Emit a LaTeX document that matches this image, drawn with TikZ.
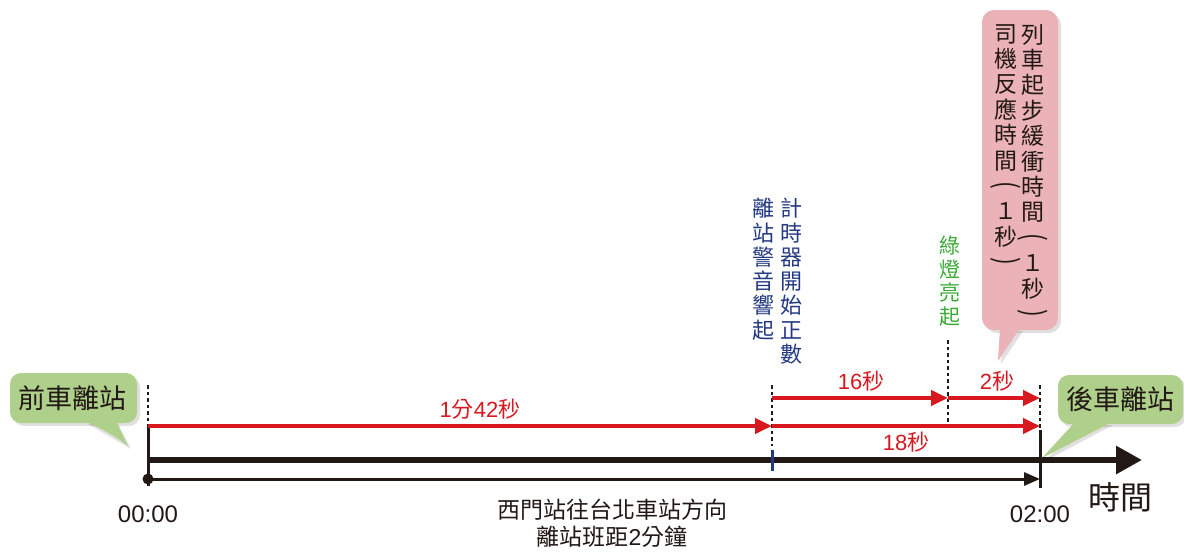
\documentclass[tikz,border=0pt]{standalone}
\usepackage{graphicx}
\usepackage{fontspec}
\setmainfont{Noto Sans CJK TC}
\newfontfamily\lat{Liberation Sans}
\usetikzlibrary{arrows.meta}
\definecolor{myred}{HTML}{D7191F}
\definecolor{mygreenbox}{HTML}{AFD08A}
\definecolor{mypink}{HTML}{EBB3B7}
\definecolor{mynavy}{HTML}{233A83}
\definecolor{mygreentext}{HTML}{3AA935}
\definecolor{myblack}{HTML}{221815}
\newcommand{\myvlp}{\rotatebox[origin=c]{-90}{\fontspec{Noto Sans CJK TC}\scalebox{1}[1.3]{(}}}
\newcommand{\myvrp}{\rotatebox[origin=c]{-90}{\fontspec{Noto Sans CJK TC}\scalebox{1}[1.3]{)}}}
\begin{document}
\begin{tikzpicture}[x=1pt,y=-1pt,
  redarr/.style={draw=myred,line width=4pt,-{Triangle[length=17pt,width=15pt]}},
  dotline/.style={draw=myblack,line width=2.5pt,dash pattern=on 3.5pt off 3pt},
  vlabel/.style={align=center,inner sep=0pt,anchor=north},
  redlabel/.style={text=myred,font=\fontsize{22}{24}\selectfont,inner sep=0pt},
  timelabel/.style={text=myblack,font=\lat\fontsize{24}{26}\selectfont,inner sep=0pt},
  calltext/.style={text=myblack,font=\fontsize{27}{29}\selectfont,inner sep=0pt},
  shadowfill/.style={fill=black,opacity=0.12}
]
\useasboundingbox (0,0) rectangle (1184,552);

% time coordinates
\coordinate (t0top) at (148,385);
\coordinate (t0red) at (148,426);
\coordinate (t0axis) at (148,460);
\coordinate (t0low) at (148,479);
\coordinate (t0bot) at (148,486);
\coordinate (t1top) at (772,385);
\coordinate (t1a) at (772,398);
\coordinate (t1red) at (772,426);
\coordinate (t1dotend) at (772,446);
\coordinate (t1tickA) at (772,450);
\coordinate (t1tickB) at (772,471);
\coordinate (t2top) at (948,340);
\coordinate (t2a) at (948,398);
\coordinate (t2bot) at (948,422);
\coordinate (t3top) at (1040,385);
\coordinate (t3a) at (1040,398);
\coordinate (t3red) at (1040,426);
\coordinate (t3solid) at (1040,430);
\coordinate (t3low) at (1040,479);
\coordinate (t3bot) at (1040,488);
\coordinate (axisend) at (1142,460);

% callouts (background)
\fill[shadowfill,rounded corners=11pt] (13,376) rectangle (140,426);
\fill[shadowfill] (88,424) -- (131,449) -- (118,424) -- cycle;
\fill[mygreenbox,rounded corners=11pt] (10,373) rectangle (137,423);
\fill[mygreenbox] (84,421) .. controls (105,430) and (118,438) .. (128,446) -- (116,421) -- cycle;

\fill[shadowfill,rounded corners=11pt] (1061,378) rectangle (1186,427);
\fill[shadowfill] (1078,425) -- (1045,461) -- (1113,425) -- cycle;
\fill[mygreenbox,rounded corners=11pt] (1058,375) rectangle (1183,424);
\fill[mygreenbox] (1075,422) -- (1042,458) -- (1112,422) -- cycle;

\fill[shadowfill,rounded corners=12pt] (985,13) rectangle (1061,333);
\fill[shadowfill] (1003,331) -- (1001,364) -- (1023,331) -- cycle;
\fill[mypink,rounded corners=12pt] (982,10) rectangle (1058,330);
\fill[mypink] (1000,328) -- (998,361) -- (1020,328) -- cycle;

% dotted markers
\draw[dotline] (t0top) -- (t0red);
\draw[dotline] (t1top) -- (t1dotend);
\draw[dotline] (t2top) -- (t2bot);
\draw[dotline] (t3top) -- (t3solid);

% axes
\draw[myblack,line width=6pt,-{Triangle[length=26pt,width=27pt]}] (t0axis) -- (axisend);
\draw[myblack,line width=3pt,-{Triangle[length=16pt,width=13pt]}] (t0low) -- (t3low);
\draw[myblack,line width=3pt] (t0red) -- (t0bot);
\draw[myblack,line width=3pt] (t3solid) -- (t3bot);
\fill[myblack] (t0low) circle (5.5pt);
\draw[mynavy,line width=3pt] (t1tickA) -- (t1tickB);

% red intervals
\draw[redarr] (t0red) -- (t1red);
\draw[redarr] (t1a) -- (t2a);
\draw[redarr] (t2a) -- (t3a);
\draw[redarr] (t1red) -- (t3red);

% labels
\node[redlabel] (l1) at (480,409) {{\lat 1}分{\lat 42}秒};
\node[redlabel] (l2) at (861,381) {{\lat 16}秒};
\node[redlabel] (l3) at (997,381) {{\lat 2}秒};
\node[redlabel] (l4) at (906,442) {{\lat 18}秒};

\node[calltext] (c1) at (73,398) {前車離站};
\node[calltext] (c2) at (1120,399) {後車離站};

\node[vlabel,text=mynavy,font=\fontsize{22}{24.3}\selectfont] (v1) at (763,198) {離\\站\\警\\音\\響\\起};
\node[vlabel,text=mynavy,font=\fontsize{22}{24.3}\selectfont] (v2) at (791,198) {計\\時\\器\\開\\始\\正\\數};
\node[vlabel,text=mygreentext,font=\fontsize{21}{23.5}\selectfont] (v3) at (950,236) {綠\\燈\\亮\\起};
\node[vlabel,text=myblack,font=\fontsize{23}{25.4}\selectfont] (v4) at (1033,24) {列\\車\\起\\步\\緩\\衝\\時\\間\\\myvlp\\１\\秒\\\myvrp};
\node[vlabel,text=myblack,font=\fontsize{23}{25.4}\selectfont] (v5) at (1006,24) {司\\機\\反\\應\\時\\間\\\myvlp\\１\\秒\\\myvrp};

\node[timelabel] (tl0) at (148,514) {00:00};
\node[timelabel] (tl1) at (1040,514) {02:00};
\node[text=myblack,font=\fontsize{32}{34}\selectfont,inner sep=0pt] (tl2) at (1120,497) {時間};
\node[text=myblack,font=\fontsize{23}{27}\selectfont,align=center,inner sep=0pt] (cap) at (612,523) {西門站往台北車站方向\\離站班距{\lat 2}分鐘};
\end{tikzpicture}
\end{document}
